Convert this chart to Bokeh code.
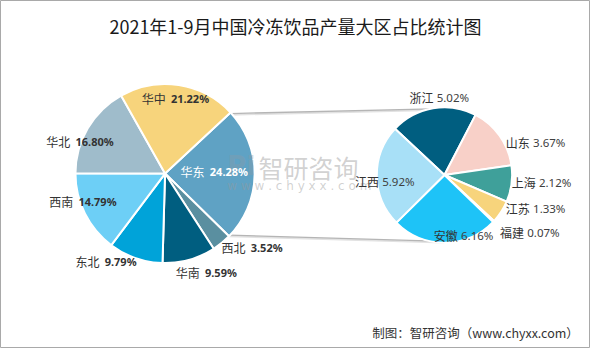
import math
from bokeh.plotting import figure
from bokeh.models import Range1d
from bokeh.core.properties import value
from bokeh.embed import file_html
from bokeh.resources import INLINE

# ---------------- data ----------------
title_text = "2021年1-9月中国冷冻饮品产量大区占比统计图"
footer_text = "制图：智研咨询（www.chyxx.com）"

regions = ["华东", "西北", "华南", "东北", "西南", "华北", "华中"]
region_pct = [24.28, 3.52, 9.59, 9.79, 14.79, 16.80, 21.22]
region_colors = ["#5fa2c4", "#5a8fa0", "#005e80", "#00a3d9", "#6dcff6", "#9fbccb", "#f7d47c"]

provinces = ["浙江", "山东", "上海", "江苏", "福建", "安徽", "江西"]
province_pct = [5.02, 3.67, 2.12, 1.33, 0.07, 6.16, 5.92]
province_colors = ["#005e80", "#f8d0c8", "#3fa09a", "#f7d47c", "#e8b84a", "#1ec3f7", "#a8e0f7"]

# ---------------- layout (reference pixel space, y down) ----------------
W, H = 606, 364
L_CX, L_CY, L_R, L_START = 169, 181, 92, 43.0
R_CX, R_CY, R_R, R_START = 456, 182.5, 69.5, 137.0

# label anchor (left edge x, centre y) in reference pixels
left_label_pos = [(185, 179), (227, 258), (180, 284), (77, 273), (50, 210), (47, 147), (145, 103)]
right_label_pos = [(420, 101), (519, 149), (525, 190), (519, 218), (513, 243), (445, 246), (364, 189)]

def Y(y):
    return H - y

p = figure(width=590, height=348, x_range=Range1d(0, W), y_range=Range1d(0, H),
           output_backend="svg", toolbar_location=None, min_border=0)
p.axis.visible = False
p.grid.visible = False
p.outline_line_color = "#a9a9a9"
p.outline_line_width = 1
p.background_fill_color = "white"
p.border_fill_color = "white"

def wedges(start, pcts, total):
    s, e = [], []
    a = start
    for v in pcts:
        span = v / total * 360.0
        s.append(math.radians(a))
        e.append(math.radians(a - span))
        a -= span
    return s, e

ls, le = wedges(L_START, region_pct, sum(region_pct))
rs, re_ = wedges(R_START, province_pct, sum(province_pct))

# connector lines (from edges of 华东 slice to top/bottom of secondary pie)
x0 = [L_CX + L_R * math.cos(ls[0]), L_CX + L_R * math.cos(le[0])]
y0 = [Y(L_CY) + L_R * math.sin(ls[0]), Y(L_CY) + L_R * math.sin(le[0])]
x1 = [R_CX, R_CX]
y1 = [Y(R_CY) + R_R, Y(R_CY) - R_R]
p.segment(x0=x0, y0=[v - 1.2 for v in y0], x1=x1, y1=[v - 1.2 for v in y1],
          line_color="#e2e2e2", line_width=2)
p.segment(x0=x0, y0=y0, x1=x1, y1=y1, line_color="#b5b5b5", line_width=1.3)

p.wedge(x=[L_CX] * len(regions), y=[Y(L_CY)] * len(regions), radius=L_R,
        start_angle=ls, end_angle=le, direction="clock",
        fill_color=region_colors, line_color="white", line_width=2)
p.wedge(x=[R_CX] * len(provinces), y=[Y(R_CY)] * len(provinces), radius=R_R,
        start_angle=rs, end_angle=re_, direction="clock",
        fill_color=province_colors, line_color="white", line_width=2)

CJK = value("Noto Sans CJK SC")

# watermark
p.text(x=[265], y=[Y(174)], text=["智研咨询"], text_font=CJK, text_font_size="25px",
       text_color="#9a9a9a", text_alpha=0.45, text_baseline="middle", text_align="left")
p.text(x=[233], y=[Y(194)], text=["w w w . c h y x x . c o m"], text_font=value("DejaVu Sans"),
       text_font_size="12px", text_color="#9a9a9a", text_alpha=0.45,
       text_baseline="middle", text_align="left")
p.text(x=[233], y=[Y(173)], text=["Pi"], text_font=value("DejaVu Sans"), text_font_style="bold",
       text_font_size="26px", text_color="#8a9aa8", text_alpha=0.4,
       text_baseline="middle", text_align="left")

# left labels
for i, name in enumerate(regions):
    lx, ly = left_label_pos[i]
    col = "white" if i == 0 else "#333333"
    p.text(x=[lx], y=[Y(ly)], text=[name], text_font=CJK, text_font_size="12px",
           text_color=col, text_baseline="middle", text_align="left")
    p.text(x=[lx + 30], y=[Y(ly)], text=[f"{region_pct[i]:.2f}%"], text_font=value("Noto Sans"),
           text_font_style="bold", text_font_size="11px",
           text_color=col, text_baseline="middle", text_align="left")

# right labels
for i, name in enumerate(provinces):
    lx, ly = right_label_pos[i]
    p.text(x=[lx], y=[Y(ly)], text=[name], text_font=CJK, text_font_size="12px",
           text_color="#333333", text_baseline="middle", text_align="left")
    p.text(x=[lx + 28], y=[Y(ly)], text=[f"{province_pct[i]:.2f}%"], text_font=value("Noto Sans"),
           text_font_size="11.5px", text_color="#404040", text_baseline="middle", text_align="left")

# title and footer
p.text(x=[W / 2], y=[Y(27)], text=[title_text], text_font=CJK, text_font_size="18px",
       text_color="#1a1a1a", text_baseline="middle", text_align="center")
p.text(x=[594], y=[Y(347)], text=[footer_text], text_font=CJK, text_font_size="12.5px",
       text_color="#333333", text_baseline="middle", text_align="right")

open("out.html", "w").write(file_html(p, INLINE))
